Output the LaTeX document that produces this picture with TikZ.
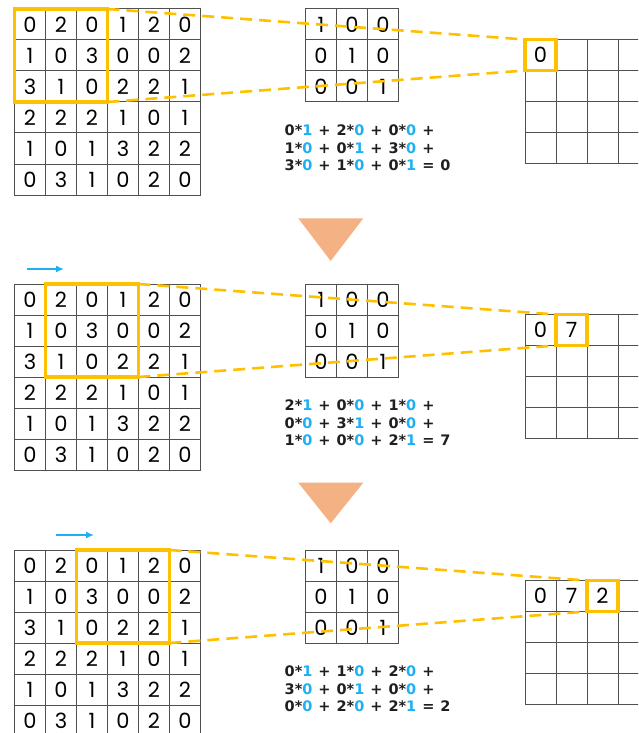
\documentclass[tikz,border=0pt]{standalone}
\usepackage{fontspec}
\newfontfamily\cellfont{Poppins}
\newfontfamily\sumfont{DejaVu Sans}
\usetikzlibrary{arrows.meta}
\definecolor{winyellow}{HTML}{FFC000}
\definecolor{kblue}{HTML}{1EB0F0}
\definecolor{triorange}{HTML}{F4B183}
\definecolor{gridgray}{HTML}{505050}
\newcommand\kv[1]{\textcolor{kblue}{#1}}
\newcommand\pl{\hspace{6pt}+\hspace{6pt}}
\newcommand\eqs{\hspace{6pt}=\hspace{6pt}}

\tikzset{
 cell/.style={draw=gridgray,line width=1pt,minimum size=31pt,inner sep=0pt,
  font=\cellfont\fontsize{21}{21}\selectfont},
 celltext/.style={inner sep=0pt,font=\cellfont\fontsize{21}{21}\selectfont},
 win/.style={draw=winyellow,line width=3.6pt,inner sep=0pt,outer sep=0pt},
 link/.style={winyellow,line width=2.6pt,dash pattern=on 12pt off 7pt},
 sumline/.style={anchor=west,inner sep=0pt,text=black!88,
  font=\sumfont\bfseries\fontsize{14.5}{15}\selectfont},
 shiftarrow/.style={kblue,line width=2.3pt,-{Latex[length=8pt,width=7pt]}},
}

% 6x6 input, 3x3 kernel, 4x4 output
\newcommand\inputgrid[1]{%
 \foreach \row [count=\r] in {{0,2,0,1,2,0},{1,0,3,0,0,2},{3,1,0,2,2,1},
   {2,2,2,1,0,1},{1,0,1,3,2,2},{0,3,1,0,2,0}}
  \foreach \v [count=\c] in \row
   \node[cell] (#1-\r-\c) at ({31*\c-1},{31*\r-15.5}) {\v};}
\newcommand\kernelgrid[1]{%
 \foreach \row [count=\r] in {{1,0,0},{0,1,0},{0,0,1}}
  \foreach \v [count=\c] in \row
   \node[cell] (#1-\r-\c) at ({290+31*\c},{31*\r-15.5}) {\v};}
\newcommand\outgrid[2]{%
 \foreach \r in {1,...,4}
  \foreach \c in {1,...,4}
   \node[cell] (#1-\r-\c) at ({509.5+31*\c},{15+31*\r}) {};
 \foreach \v [count=\c] in {#2}
  \node[celltext] at (#1-1-\c) {\v};}

\begin{document}
\begin{tikzpicture}[x=1pt,y=-1pt]
 \useasboundingbox (0,0) rectangle (638,733);
 \clip (0,0) rectangle (638,733);
 % step 1
 \begin{scope}[shift={(0,9)}]
  \inputgrid{ia}\kernelgrid{ka}\outgrid{oa}{0}
  \node[win,minimum size=93pt] (wa) at (ia-2-2) {};
  \node[win,minimum size=31pt] (ba) at (oa-1-1) {};
  \draw[link] (wa.north east) -- (ba.north west);
  \draw[link] (wa.south east) -- (ba.south west);
  \node[sumline] (sa1) at (284.5,121.7) {0*\kv1\pl 2*\kv0\pl 0*\kv0\pl};
  \node[sumline] (sa2) at (284.5,139) {1*\kv0\pl 0*\kv1\pl 3*\kv0\pl};
  \node[sumline] (sa3) at (284.5,156.3) {3*\kv0\pl 1*\kv0\pl 0*\kv1\eqs 0};
 \end{scope}
 \fill[triorange] (298.3,218.3) -- (363.3,218.3) -- (330.7,261) -- cycle;
 % step 2
 \begin{scope}[shift={(0,284)}]
  \inputgrid{ib}\kernelgrid{kb}\outgrid{ob}{0,7}
  \node[win,minimum size=93pt] (wb) at (ib-2-3) {};
  \node[win,minimum size=31pt] (bb) at (ob-1-2) {};
  \draw[link] (wb.north east) -- (bb.north west);
  \draw[link] (wb.south east) -- (bb.south west);
  \coordinate (mb1) at (27,-15);\coordinate (mb2) at (64,-15);
  \draw[shiftarrow] (mb1) -- (mb2);
  \node[sumline] (sb1) at (284.5,121.7) {2*\kv1\pl 0*\kv0\pl 1*\kv0\pl};
  \node[sumline] (sb2) at (284.5,139) {0*\kv0\pl 3*\kv1\pl 0*\kv0\pl};
  \node[sumline] (sb3) at (284.5,156.3) {1*\kv0\pl 0*\kv0\pl 2*\kv1\eqs 7};
 \end{scope}
 \fill[triorange] (298.3,482.7) -- (363.3,482.7) -- (330.7,523.3) -- cycle;
 % step 3
 \begin{scope}[shift={(0,550)}]
  \inputgrid{ic}\kernelgrid{kc}\outgrid{oc}{0,7,2}
  \node[win,minimum size=93pt] (wc) at (ic-2-4) {};
  \node[win,minimum size=31pt] (bc) at (oc-1-3) {};
  \draw[link] (wc.north east) -- (bc.north west);
  \draw[link] (wc.south east) -- (bc.south west);
  \coordinate (mc1) at (56,-15);\coordinate (mc2) at (94,-15);
  \draw[shiftarrow] (mc1) -- (mc2);
  \node[sumline] (sc1) at (284.5,121.7) {0*\kv1\pl 1*\kv0\pl 2*\kv0\pl};
  \node[sumline] (sc2) at (284.5,139) {3*\kv0\pl 0*\kv1\pl 0*\kv0\pl};
  \node[sumline] (sc3) at (284.5,156.3) {0*\kv0\pl 2*\kv0\pl 2*\kv1\eqs 2};
 \end{scope}
\end{tikzpicture}
\end{document}
